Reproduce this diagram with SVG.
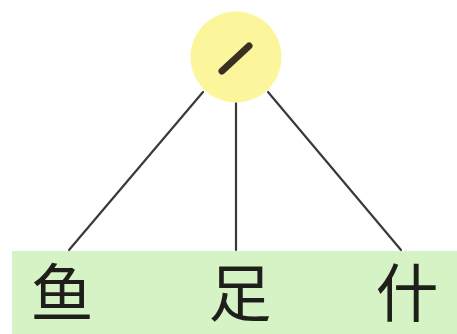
<svg xmlns="http://www.w3.org/2000/svg" width="457" height="334" viewBox="0 0 457 334">
<style>
.edge{stroke:#3a3a3a;stroke-width:2.2;fill:none;stroke-linecap:round}
.char{font-family:"Noto Sans CJK SC","Noto Sans CJK JP",sans-serif;font-size:63px;fill:#1e1e1a;text-anchor:middle}
</style>
<rect x="0" y="0" width="457" height="334" fill="#ffffff"/>
<g id="band">
<rect x="12" y="251" width="445" height="83" fill="#d6f3c6"/>
</g>
<g id="connectors">
<line class="edge" x1="203" y1="92" x2="69" y2="250"/>
<line class="edge" x1="236" y1="103" x2="236" y2="250"/>
<line class="edge" x1="268" y1="92" x2="401" y2="250"/>
</g>
<g id="root">
<circle cx="236" cy="57" r="45.5" fill="#fbf69b"/>
<line x1="222" y1="71" x2="249" y2="46" stroke="#3a3022" stroke-width="7" stroke-linecap="round"/>
</g>
<g id="node-yu"><text class="char" x="62" y="316">鱼</text></g>
<g id="node-zu"><text class="char" x="240" y="316">足</text></g>
<g id="node-shen"><text class="char" x="407" y="316">什</text></g>
</svg>
